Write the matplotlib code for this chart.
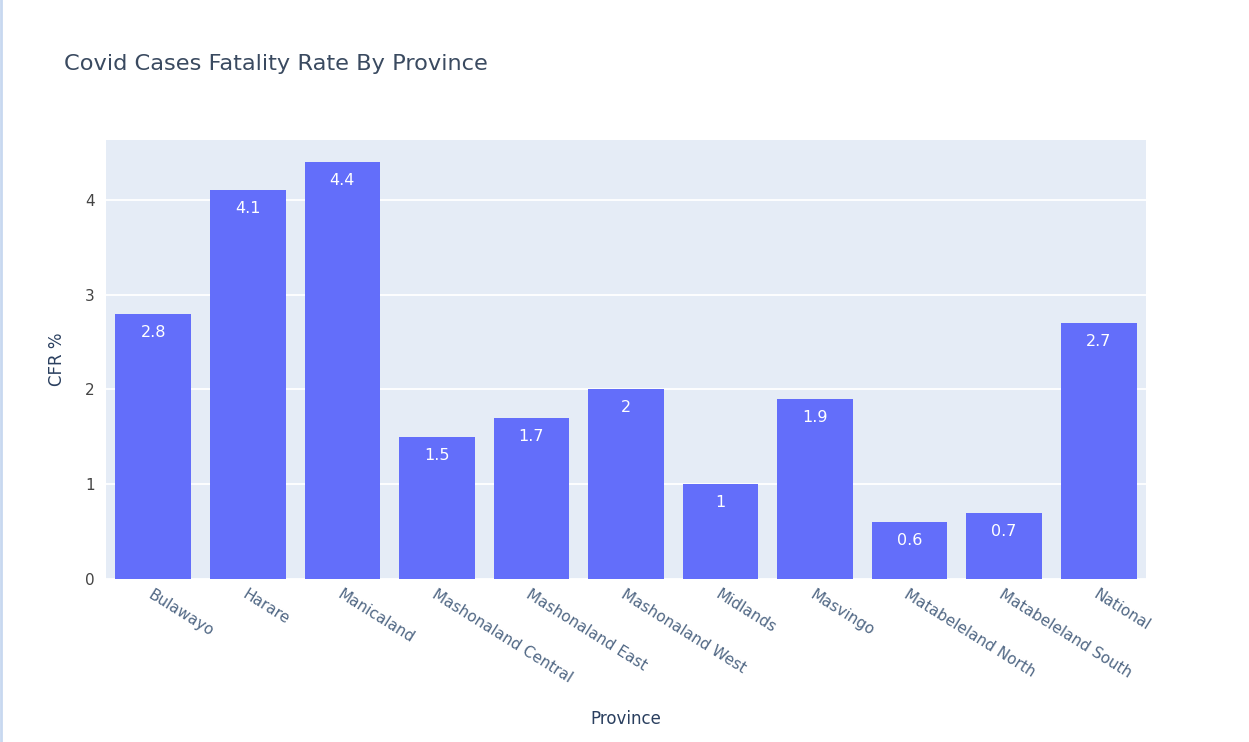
import matplotlib
matplotlib.use('Agg')
import matplotlib.pyplot as plt

# datos
provincias = ['Bulawayo', 'Harare', 'Manicaland', 'Mashonaland Central', 'Mashonaland East',
              'Mashonaland West', 'Midlands', 'Masvingo', 'Matabeleland North',
              'Matabeleland South', 'National']
cfr = [2.8, 4.1, 4.4, 1.5, 1.7, 2, 1, 1.9, 0.6, 0.7, 2.7]
etiquetas = ['2.8', '4.1', '4.4', '1.5', '1.7', '2', '1', '1.9', '0.6', '0.7', '2.7']

plt.rcParams['font.family'] = ['DejaVu Sans']
color_texto = '#2a3f5f'

fig = plt.figure(figsize=(12.49, 7.42), dpi=100)
ax = fig.add_axes([0.0849, 0.2197, 0.8326, 0.5916])
ax.set_facecolor('#e5ecf6')

x = range(len(provincias))
barras = ax.bar(x, cfr, width=0.8, color='#636efa', zorder=2)

# etiquetas dentro de las barras
for xi, v, t in zip(x, cfr, etiquetas):
    ax.annotate(t, (xi, v), xytext=(0, -8), textcoords='offset points',
                ha='center', va='top', color='white', fontsize=11.5)

ax.set_xlim(-0.5, len(provincias) - 0.5)
ax.set_ylim(0, 4.63)
ax.set_yticks([0, 1, 2, 3, 4])
ax.grid(axis='y', color='white', linewidth=1.3, zorder=0)
ax.set_axisbelow(True)
for s in ax.spines.values():
    s.set_visible(False)
ax.tick_params(axis='both', length=0, colors='#444444', labelsize=11)
ax.tick_params(axis='y', pad=8)
ax.tick_params(axis='x', pad=6)

ax.set_xticks(list(x))
ax.set_xticklabels(provincias, rotation=-32, ha='left', va='top', rotation_mode='anchor',
                   color='#506784')

ax.set_ylabel('CFR %', fontsize=12, color=color_texto)
ax.yaxis.set_label_coords(-0.0385, 0.5)
ax.set_xlabel('Province', fontsize=12, color=color_texto)
ax.xaxis.set_label_coords(0.5, -0.298)

fig.text(0.0512, 0.9057, 'Covid Cases Fatality Rate By Province', fontsize=16.2,
         color='#3a4a60', ha='left', va='baseline')

# borde izquierdo de la captura
fig.add_artist(plt.Line2D([0.001, 0.001], [0, 1], color='#c8d8f0', linewidth=2))

fig.savefig('out.png', dpi=100, facecolor='white')
